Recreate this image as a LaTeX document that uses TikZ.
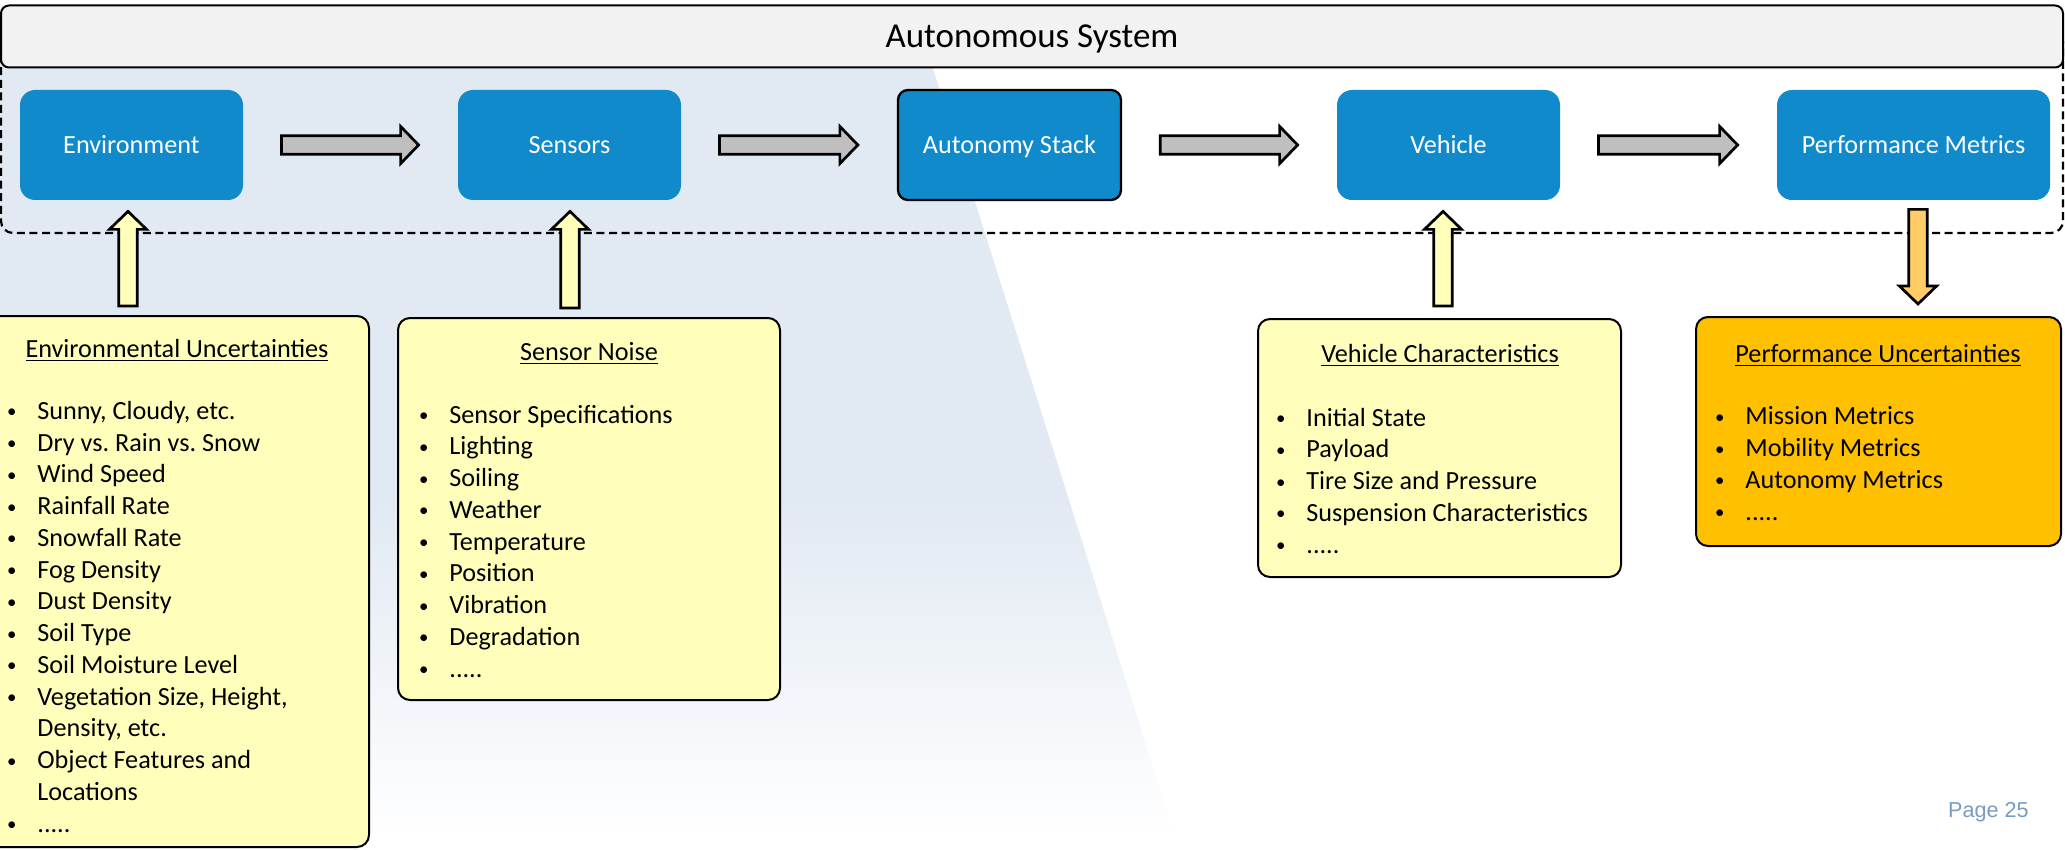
\documentclass[tikz,border=0pt]{standalone}
\usepackage{fontspec}
\usepackage{graphicx}
\setmainfont{Carlito}
\newfontfamily\pagefont{Liberation Sans}
\usetikzlibrary{calc}
\frenchspacing

\definecolor{shadeblue}{RGB}{225,233,242}
\definecolor{titlegray}{RGB}{242,242,242}
\definecolor{boxblue}{RGB}{17,138,203}
\definecolor{noteyellow}{RGB}{255,255,187}
\definecolor{noteorange}{RGB}{255,192,0}
\definecolor{arrowgray}{RGB}{191,191,191}
\definecolor{arrowyellow}{RGB}{255,255,185}
\definecolor{arroworange}{RGB}{255,204,102}
\definecolor{pageblue}{RGB}{118,156,198}

% block arrow pointing right, from #2 to the tip #3
\newcommand\fatarrowR[3]{%
  \draw[#1] let \p1=(#2), \p2=(#3) in
    (\x1,\y1+4.6pt) -- (\x2-9pt,\y1+4.6pt) -- (\x2-9pt,\y1+9.3pt) -- (\x2,\y1)
    -- (\x2-9pt,\y1-9.3pt) -- (\x2-9pt,\y1-4.6pt) -- (\x1,\y1-4.6pt) -- cycle;}
% vertical block arrow from #2 to the tip #3; #4 is the signed head length
\newcommand\fatarrowV[4]{%
  \draw[#1] let \p1=(#2), \p2=(#3) in
    (\x1-4.6pt,\y1) -- (\x1-4.6pt,\y2#4) -- (\x1-9.3pt,\y2#4) -- (\x1,\y2)
    -- (\x1+9.3pt,\y2#4) -- (\x1+4.6pt,\y2#4) -- (\x1+4.6pt,\y1) -- cycle;}

% small bullet hanging to the left of the item text
\newcommand\bul{\llap{\raisebox{0.12ex}{\scalebox{0.72}{\textbullet}}\hspace{10.5pt}}}

\tikzset{
  bodyfont/.style={font=\fontsize{13.1}{15.87}\selectfont},
  bluebox/.style={fill=boxblue, rounded corners=7.5pt, minimum height=55pt,
    inner sep=0pt, text=white, text height=8.4pt, text depth=0pt, bodyfont},
  notebox/.style={draw=black, line width=1pt, rounded corners=6pt, inner sep=0pt},
  hdr/.style={anchor=base, inner sep=0pt, bodyfont},
  % lists are placed by the baseline of their last line
  lst/.style={anchor=base west, align=left, inner sep=0pt, bodyfont},
  flowarrow/.style={draw=black, line width=1.35pt, fill=arrowgray, line join=miter},
  feedarrow/.style={draw=black, line width=1.35pt, fill=arrowyellow, line join=miter},
  outarrow/.style={draw=black, line width=1.35pt, fill=arroworange, line join=miter},
  frameline/.style={draw=black, line width=1.1pt, dash pattern=on 4pt off 2.3pt},
}

\begin{document}
\begin{tikzpicture}[x=0.5pt, y=-0.5pt]
\useasboundingbox (0,0) rectangle (2065,850);

% slanted backdrop fading out towards the bottom
\fill[shadeblue] (0,40) -- (924,40) -- (1069,500) -- (0,500) -- cycle;
\shade[top color=shadeblue, bottom color=white]
  (0,500) -- (1069,500) -- (1176,840) -- (0,840) -- cycle;

% dashed system boundary and its title bar
\draw[frameline, rounded corners=6pt] (1,30) rectangle (2063,233);
\node[draw=black, line width=1pt, fill=titlegray, rounded corners=4pt,
      minimum width=1031pt, minimum height=31pt, inner sep=0pt,
      text height=11.3pt, text depth=0pt,
      font=\fontsize{17.5}{21}\selectfont] (title) at (1032,36.5) {Autonomous System};

% pipeline blocks
\node[bluebox, minimum width=111.5pt] (env)  at (131.5,145) {Environment};
\node[bluebox, minimum width=111.5pt] (sens) at (569.5,145) {Sensors};
\node[bluebox, minimum width=111.5pt, draw=black, line width=1.15pt,
      rounded corners=5pt] (auto) at (1009.5,145) {Autonomy Stack};
\node[bluebox, minimum width=111.5pt] (veh)  at (1448.5,145) {Vehicle};
\node[bluebox, minimum width=136.5pt] (perf) at (1913.5,145) {Performance Metrics};

% note boxes
\node[notebox, fill=noteyellow, minimum width=194.5pt, minimum height=265.5pt] (envu)  at (174.5,581.5) {};
\node[notebox, fill=noteyellow, minimum width=191pt,   minimum height=191pt]   (sensu) at (589,509) {};
\node[notebox, fill=noteyellow, minimum width=181.5pt, minimum height=129pt]   (vehu)  at (1439.5,448) {};
\node[notebox, fill=noteorange, minimum width=182.5pt, minimum height=114.5pt] (perfu) at (1878.5,431.5) {};

% note contents
\node[hdr] (envh) at (177,357) {\underline{Environmental Uncertainties}};
\node[lst] (envl) at (37,832) {%
\bul Sunny, Cloudy, etc.\\
\bul Dry vs. Rain vs. Snow\\
\bul Wind Speed\\
\bul Rainfall Rate\\
\bul Snowfall Rate\\
\bul Fog Density\\
\bul Dust Density\\
\bul Soil Type\\
\bul Soil Moisture Level\\
\bul Vegetation Size, Height,\\
Density, etc.\\
\bul Object Features and\\
Locations\\
\bul .....};

\node[hdr] (sensh) at (589,360) {\underline{Sensor Noise}};
\node[lst] (sensl) at (449,677) {%
\bul Sensor Specifications\\
\bul Lighting\\
\bul Soiling\\
\bul Weather\\
\bul Temperature\\
\bul Position\\
\bul Vibration\\
\bul Degradation\\
\bul .....};

\node[hdr] (vehh) at (1440,362) {\underline{Vehicle Characteristics}};
\node[lst] (vehl) at (1306,553) {%
\bul Initial State\\
\bul Payload\\
\bul Tire Size and Pressure\\
\bul Suspension Characteristics\\
\bul .....};

\node[hdr] (perfh) at (1878,362) {\underline{Performance Uncertainties}};
\node[lst] (perfl) at (1745,520) {%
\bul Mission Metrics\\
\bul Mobility Metrics\\
\bul Autonomy Metrics\\
\bul .....};

% flow along the pipeline
\foreach \a/\b in {env/sens, sens/auto, auto/veh, veh/perf}
  \fatarrowR{flowarrow}{$(\a.east)+(38,0)$}{$(\b.west)+(-39,0)$};

% uncertainty inputs and the performance output
\fatarrowV{feedarrow}{$(env.south |- envu.north)+(-3.5,-9)$}{$(env.south)+(-3.5,11)$}{-9pt}
\fatarrowV{feedarrow}{$(sens.south |- sensu.north)+(0.5,-9)$}{$(sens.south)+(0.5,11)$}{-9pt}
\fatarrowV{feedarrow}{$(veh.south |- vehu.north)+(-5.5,-12)$}{$(veh.south)+(-5.5,11)$}{-9pt}
\fatarrowV{outarrow}{$(perf.south)+(4.5,9)$}{$(perf.south |- perfu.north)+(4.5,-12)$}{+9pt}

\node[anchor=base east, inner sep=0pt, text=pageblue,
      font=\pagefont\fontsize{10.8}{13}\selectfont] (page) at (2029,817) {Page 25};
\end{tikzpicture}
\end{document}
